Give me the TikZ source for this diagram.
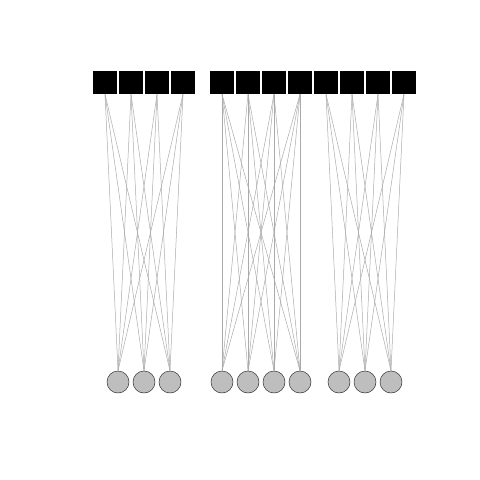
\documentclass[tikz,border=0pt]{standalone}
\usepackage{tikz}
\usetikzlibrary{positioning,calc}
\definecolor{clrBall}{RGB}{190,190,190}
\definecolor{clrLink}{RGB}{170,170,170}
\tikzset{
  block/.style={rectangle,draw=none,fill=black,minimum width=24pt,
    minimum height=23pt,inner sep=0pt},
  ball/.style={circle,draw=black!80,fill=clrBall,minimum size=22pt,
    inner sep=0pt,line width=0.5pt},
  link/.style={draw=clrLink,line width=0.5pt}
}
\begin{document}
\begin{tikzpicture}[x=1pt,y=-1pt]
  \useasboundingbox (0,0) rectangle (480,480);

  % top row of blocks
  \foreach \i/\x in {1/105,2/131,3/157,4/183,5/222,6/248,7/274,8/300,
                     9/326,10/352,11/378,12/404}
    \node[block] (t\i) at (\x,82.5) {};

  % bottom row of balls
  \foreach \j/\x in {1/118,2/144,3/170,4/222,5/248,6/274,7/300,
                     8/339,9/365,10/391}
    \node[ball] (c\j) at (\x,382) {};

  % links, each group fully joined
  \foreach \i in {1,...,4}
    \foreach \j in {1,2,3}
      \draw[link] (t\i.south) -- (c\j.north);
  \foreach \i in {5,...,8}
    \foreach \j in {4,...,7}
      \draw[link] (t\i.south) -- (c\j.north);
  \foreach \i in {9,...,12}
    \foreach \j in {8,9,10}
      \draw[link] (t\i.south) -- (c\j.north);
\end{tikzpicture}
\end{document}
